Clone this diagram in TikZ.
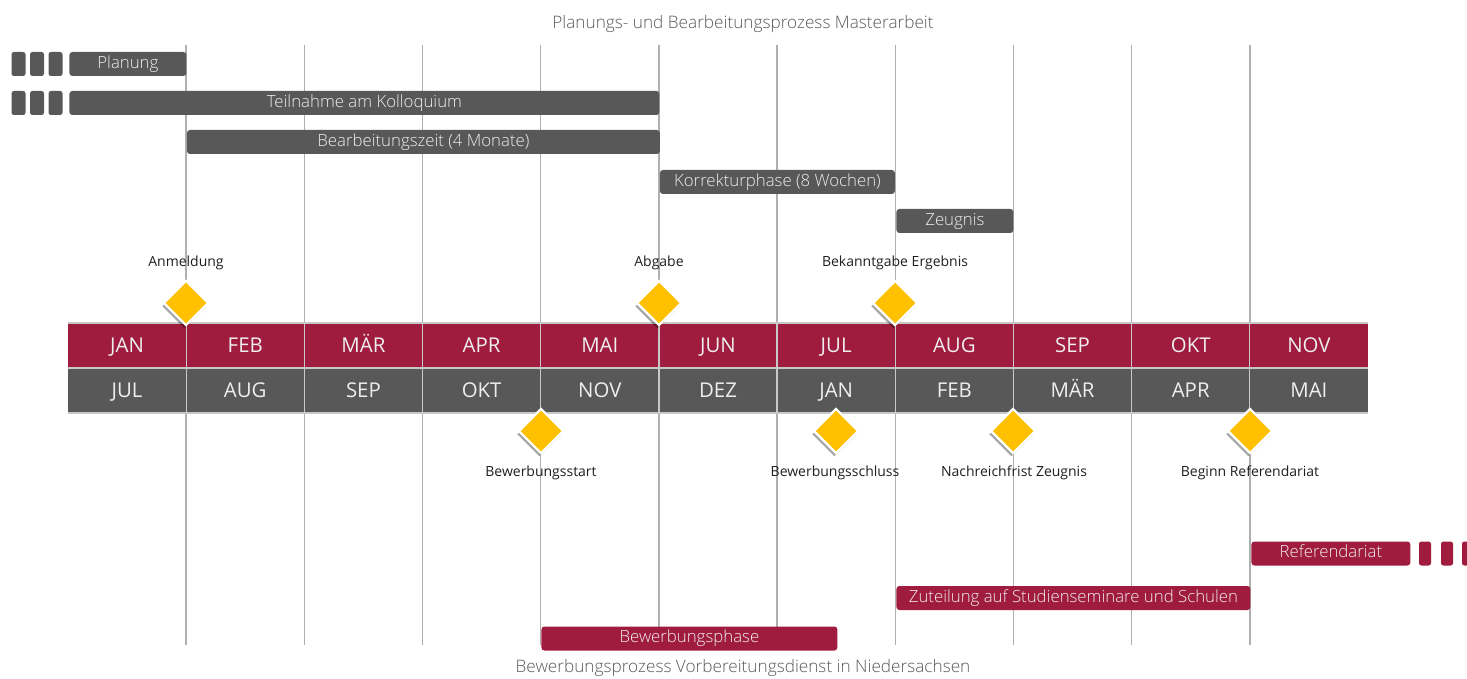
\documentclass[tikz,border=0pt]{standalone}
\usepackage{fontspec}
\setmainfont{Open Sans}[UprightFont={* Light}]
\newfontfamily\lblfont{Open Sans}
\usetikzlibrary{shapes.geometric,shadows}
\definecolor{crim}{RGB}{160,28,62}
\definecolor{dgray}{RGB}{88,88,88}
\definecolor{gold}{RGB}{255,192,0}
\definecolor{gridc}{RGB}{175,175,175}
\definecolor{sepc}{RGB}{200,200,200}
\definecolor{bartext}{RGB}{238,238,238}
\definecolor{titlec}{RGB}{90,90,90}
\begin{document}
\begin{tikzpicture}[x=0.5pt,y=-0.5pt,
  mcell/.style={rectangle, inner sep=0pt, minimum width=59.1pt, minimum height=22.5pt, text=bartext, text height=7.4pt, text depth=0pt, font=\lblfont\fontsize{10.2}{12}\selectfont},
  bar/.style={rectangle, rounded corners=1.5pt, inner sep=0pt, minimum height=12pt, anchor=west, text=bartext, text height=6.2pt, text depth=1.8pt, font=\fontsize{8.4}{10}\selectfont},
  gbar/.style={bar, fill=dgray},
  cbar/.style={bar, fill=crim},
  sq/.style={rectangle, rounded corners=1.2pt, inner sep=0pt, minimum height=12pt, minimum width=7pt},
  dia/.style={rectangle, rotate=45, inner sep=0pt, minimum size=15.6pt, fill=gold, draw=white, line width=1.1pt,
     drop shadow={shadow xshift=-0.8pt, shadow yshift=-1.6pt, opacity=0.35, fill=black}},
  lbl/.style={text=black!88, inner sep=0pt, font=\lblfont\fontsize{7}{8}\selectfont},
  ttl/.style={text=titlec, inner sep=0pt, font=\fontsize{8.6}{10}\selectfont},
  gline/.style={draw=gridc, line width=0.7pt}
]
\useasboundingbox (0,0) rectangle (1467,679);

% titles
\node[ttl] (top) at (743,24) {Planungs- und Bearbeitungsprozess Masterarbeit};
\node[ttl] (bot) at (743,668) {Bewerbungsprozess Vorbereitungsdienst in Niedersachsen};

% vertical grid lines
\foreach \i in {1,...,10} {
  \draw[gline] ({68+118.18*\i},45) -- ({68+118.18*\i},645);
}

% month cells
\foreach \m [count=\i from 0] in {JAN,FEB,MÄR,APR,MAI,JUN,JUL,AUG,SEP,OKT,NOV} {
  \node[mcell, fill=crim] (a\i) at ({68+118.18*\i+59.09},345.5) {\m};
}
\foreach \m [count=\i from 0] in {JUL,AUG,SEP,OKT,NOV,DEZ,JAN,FEB,MÄR,APR,MAI} {
  \node[mcell, fill=dgray] (b\i) at ({68+118.18*\i+59.09},390.5) {\m};
}
\draw[draw=sepc, line width=0.6pt] (68,323) -- (1368,323);
\draw[draw=sepc, line width=0.8pt] (68,368) -- (1368,368);
\draw[draw=sepc, line width=0.6pt] (68,413) -- (1368,413);
\foreach \i in {1,...,10} {
  \draw[draw=sepc, line width=0.6pt] ({68+118.18*\i},323) -- ({68+118.18*\i},413);
}

% gray bars
\foreach \x [count=\k] in {18.5,37,55.5} {
  \node[sq, fill=dgray] (pq\k) at (\x,64) {};
  \node[sq, fill=dgray] (tq\k) at (\x,103) {};
}
\node[gbar, minimum width=58.5pt] (planung) at (69,64) {Planung};
\node[gbar, minimum width=295pt] (kolloq) at (69,103) {Teilnahme am Kolloquium};
\node[gbar, minimum width=236.5pt] (bearb) at (186.5,142) {Bearbeitungszeit (4 Monate)};
\node[gbar, minimum width=117.5pt] (korr) at (659.5,182) {Korrekturphase (8 Wochen)};
\node[gbar, minimum width=58.5pt] (zeug) at (896,221) {Zeugnis};

% upper milestones
\node[lbl] (lanm) at (186,263) {Anmeldung};
\node[lbl] (labg) at (659,263) {Abgabe};
\node[lbl] (lbek) at (895,263) {Bekanntgabe Ergebnis};
\node[dia] (danm) at (186,303) {};
\node[dia] (dabg) at (659,303) {};
\node[dia] (dbek) at (895,303) {};

% lower milestones
\node[dia] (dbst) at (541,431) {};
\node[dia] (dbsl) at (836,431) {};
\node[dia] (dnach) at (1013,431) {};
\node[dia] (dref) at (1250,431) {};
\node[lbl] (lbst) at (541,473) {Bewerbungsstart};
\node[lbl] (lbsl) at (835,473) {Bewerbungsschluss};
\node[lbl] (lnach) at (1014,473) {Nachreichfrist Zeugnis};
\node[lbl] (lref) at (1250,473) {Beginn Referendariat};

% crimson bars
\node[cbar, minimum width=79.5pt] (refe) at (1251,553.5) {Referendariat};
\foreach \x [count=\k] in {1425,1447,1468} {
  \node[sq, fill=crim, minimum width=6pt] (rq\k) at (\x,553.5) {};
}
\node[cbar, minimum width=177pt] (zut) at (896,598) {Zuteilung auf Studienseminare und Schulen};
\node[cbar, minimum width=148pt] (bewph) at (541,638.5) {Bewerbungsphase};
\end{tikzpicture}
\end{document}
